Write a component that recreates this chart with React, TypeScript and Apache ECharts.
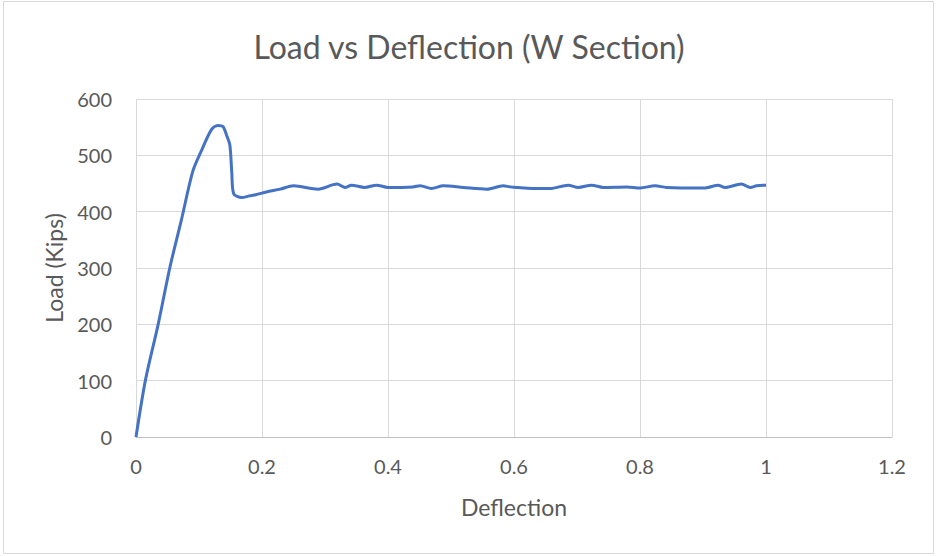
import React, { useEffect, useRef } from "react";
import * as echarts from "echarts";

// Deflection (in) and load (kips) readings for the W section test
const deflection = [
  0, 0.015, 0.035, 0.054, 0.072, 0.09, 0.103, 0.12, 0.13, 0.138, 0.144, 0.149, 0.152, 0.155,
  0.168, 0.18, 0.19, 0.207, 0.229, 0.25, 0.289, 0.319, 0.332, 0.342, 0.363, 0.382, 0.4,
  0.44, 0.451, 0.469, 0.488, 0.52, 0.557, 0.583, 0.594, 0.636, 0.657, 0.686, 0.702, 0.723,
  0.742, 0.779, 0.8, 0.824, 0.842, 0.9, 0.908, 0.924, 0.935, 0.961, 0.975, 0.985, 1.0,
];
const load = [
  0, 101, 199, 302, 385, 471, 506, 546, 553, 551, 535, 518, 470, 432,
  425, 428, 430, 435, 440, 446, 440, 449, 443, 447, 443, 447, 443,
  444, 446, 441, 446, 443, 440, 446, 444, 441, 441, 447, 443, 447,
  443, 444, 442, 446, 443, 442, 443, 447, 443, 449, 443, 446, 447,
];

const xTicks = { min: 0, max: 1.2, interval: 0.2 };
const yTicks = { min: 0, max: 600, interval: 100 };

export default function App() {
  const ref = useRef<HTMLDivElement>(null);

  useEffect(() => {
    if (!ref.current) return;
    const chart = echarts.init(ref.current, null, { renderer: "svg" });
    const font = "Lato, 'Open Sans', sans-serif";
    chart.setOption({
      animation: false,
      backgroundColor: "#ffffff",
      title: {
        text: "Load vs Deflection (W Section)",
        left: "center",
        top: 25,
        textStyle: { color: "#595959", fontSize: 32, fontWeight: "normal", fontFamily: font },
      },
      grid: { left: 136, right: 46, top: 99, bottom: 119 },
      xAxis: {
        type: "value",
        ...xTicks,
        name: "Deflection",
        nameLocation: "middle",
        nameGap: 58,
        nameTextStyle: { color: "#595959", fontSize: 23, fontFamily: font },
        axisLine: { show: true, lineStyle: { color: "#bfbfbf", width: 1 } },
        axisTick: { show: false },
        axisLabel: {
          color: "#595959",
          fontSize: 20,
          fontFamily: font,
          margin: 19,
          formatter: (v: number) => String(Math.round(v * 10) / 10),
        },
        splitLine: { show: true, lineStyle: { color: "#d9d9d9", width: 1 } },
      },
      yAxis: {
        type: "value",
        ...yTicks,
        name: "Load (Kips)",
        nameLocation: "middle",
        nameGap: 71,
        nameRotate: 90,
        nameTextStyle: { color: "#595959", fontSize: 23, fontFamily: font },
        axisLine: { show: false },
        axisTick: { show: false },
        axisLabel: { color: "#595959", fontSize: 20, fontFamily: font, margin: 24 },
        splitLine: { show: true, lineStyle: { color: "#d9d9d9", width: 1 } },
      },
      series: [
        {
          type: "line",
          data: deflection.map((d, i) => [d, load[i]]),
          showSymbol: false,
          smooth: 0.3,
          lineStyle: { color: "#4472c4", width: 3 },
        },
      ],
      graphic: [
        {
          type: "rect",
          shape: { x: 3.5, y: 1.5, width: 930, height: 552 },
          style: { fill: "none", stroke: "#d9d9d9", lineWidth: 1 },
          silent: true,
        },
      ],
    });
    return () => chart.dispose();
  }, []);

  return (
    <div
      ref={ref}
      style={{ position: "fixed", left: 0, top: 0, width: 938, height: 556 }}
    />
  );
}
